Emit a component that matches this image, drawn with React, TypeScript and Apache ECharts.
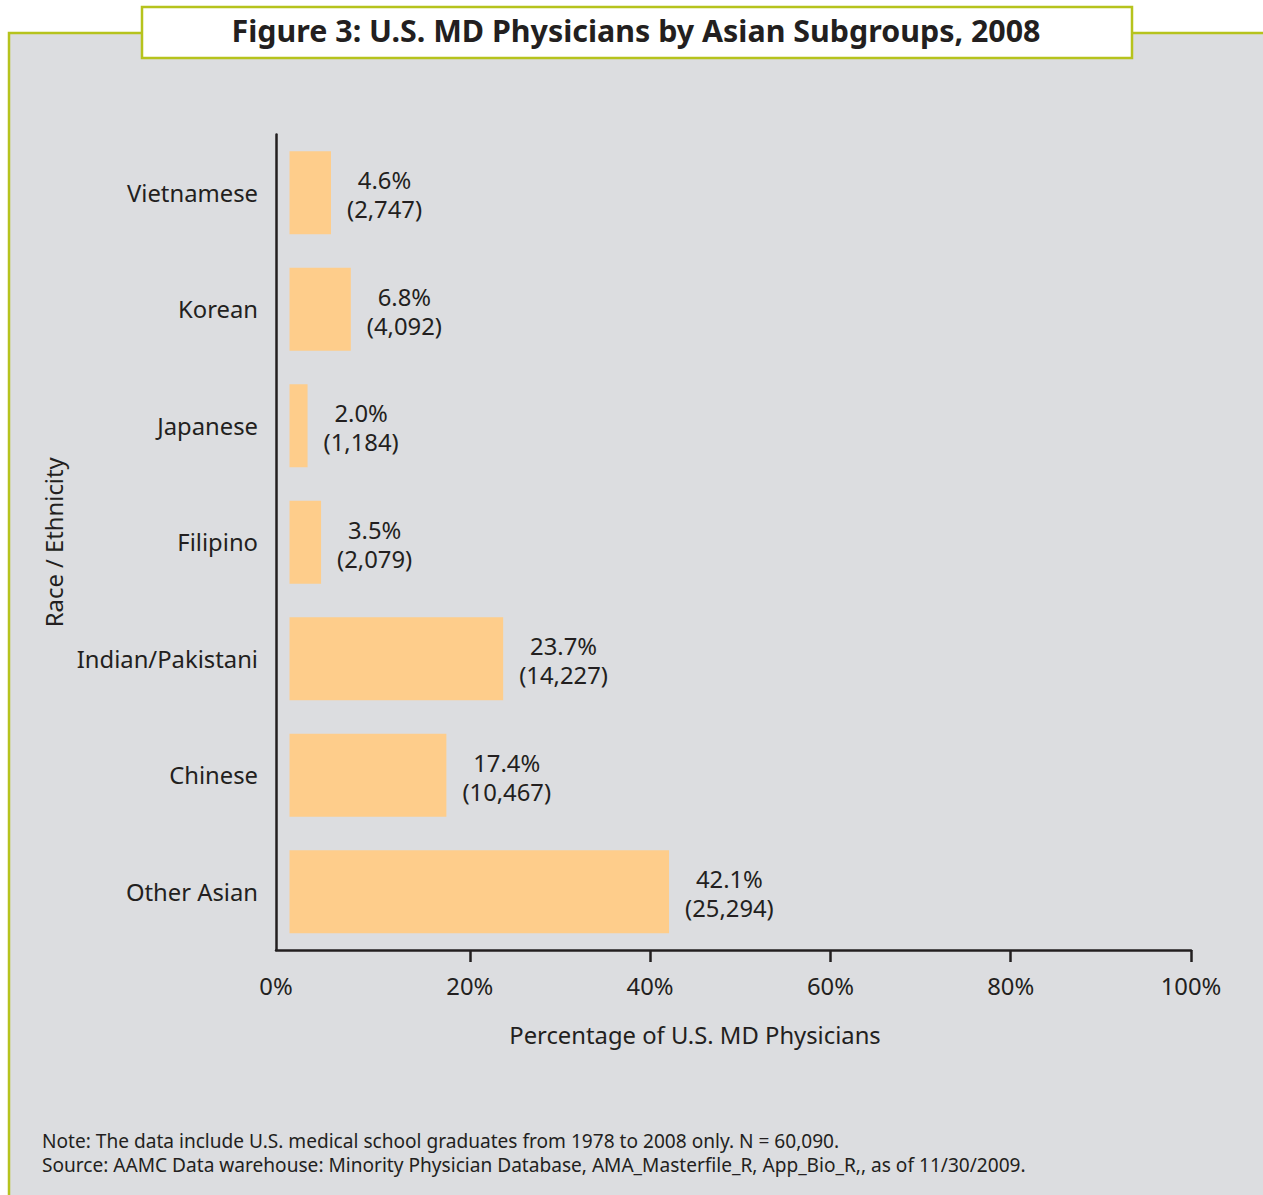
import React, { useEffect, useRef } from 'react';
import * as echarts from 'echarts';

const categories = ['Vietnamese', 'Korean', 'Japanese', 'Filipino', 'Indian/Pakistani', 'Chinese', 'Other Asian'];
const percentages = [4.6, 6.8, 2.0, 3.5, 23.7, 17.4, 42.1];
const counts = [2747, 4092, 1184, 2079, 14227, 10467, 25294];
const xTickValues = [20, 40, 60, 80, 100];
const xLabelValues = [0, 20, 40, 60, 80, 100];
const titleText = 'Figure 3: U.S. MD Physicians by Asian Subgroups, 2008';
const xAxisName = 'Percentage of U.S. MD Physicians';
const yAxisName = 'Race / Ethnicity';
const noteLines = [
  'Note: The data include U.S. medical school graduates from 1978 to 2008 only. N = 60,090.',
  'Source: AAMC Data warehouse: Minority Physician Database, AMA_Masterfile_R, App_Bio_R,, as of 11/30/2009.',
];

const FONT = "'Noto Sans', 'Open Sans', sans-serif";
const TEXT = '#231f20';
const GREEN = '#b6c31d';
const PANEL = '#dcdde0';
const BAR = '#fecd8b';
const X_MIN = -1.5;
const FS = 23.8;

function measure(text: string, size: number): number {
  const c = document.createElement('canvas');
  const ctx = c.getContext('2d');
  if (!ctx) return text.length * size * 0.55;
  ctx.font = `${size}px ${FONT}`;
  return ctx.measureText(text).width;
}

export default function App() {
  const ref = useRef<HTMLDivElement>(null);
  useEffect(() => {
    if (!ref.current) return;
    const chart = echarts.init(ref.current, undefined, { renderer: 'svg' });
    const pctText = (i: number) => `${percentages[i].toFixed(1)}%`;
    const cntText = (i: number) => `(${counts[i].toLocaleString('en-US')})`;
    const seriesData = percentages.map((v, i) => {
      const w = Math.max(measure(pctText(i), FS), measure(cntText(i), FS));
      return { value: v, label: { offset: [w / 2, 2] } };
    });
    chart.setOption({
      animation: false,
      backgroundColor: '#ffffff',
      textStyle: { fontFamily: FONT },
      title: {
        text: titleText,
        left: 631,
        textAlign: 'center',
        top: 10,
        z: 10,
        textStyle: { fontFamily: FONT, fontSize: 30.4, fontWeight: 'bold', color: TEXT },
      },
      graphic: [
        {
          type: 'rect',
          z: -10,
          silent: true,
          shape: { x: 9, y: 33, width: 1264, height: 1180 },
          style: { fill: PANEL, stroke: GREEN, lineWidth: 2.5 },
        },
        {
          type: 'rect',
          z: 5,
          silent: true,
          shape: { x: 142, y: 7, width: 990, height: 51 },
          style: { fill: '#ffffff', stroke: GREEN, lineWidth: 2.5 },
        },
        ...noteLines.map((t, i) => ({
          type: 'text',
          z: 5,
          x: 42,
          y: 1141 + i * 24,
          style: {
            text: t,
            fill: TEXT,
            fontSize: 19.1,
            fontFamily: FONT,
            verticalAlign: 'middle',
            align: 'left',
          },
        })),
      ],
      grid: {
        left: 276,
        right: 72,
        top: 134.5,
        bottom: 245,
        containLabel: false,
        outerBoundsMode: 'none',
      },
      xAxis: {
        type: 'value',
        min: X_MIN,
        max: 100,
        splitLine: { show: false },
        axisLine: { show: true, onZero: false, lineStyle: { color: TEXT, width: 2.5 } },
        axisTick: {
          show: true,
          length: 12,
          inside: false,
          customValues: xTickValues,
          lineStyle: { color: TEXT, width: 2.5 },
        },
        axisLabel: {
          customValues: xLabelValues.map((v) => (v === 0 ? X_MIN : v)),
          showMinLabel: true,
          showMaxLabel: true,
          formatter: (v: number) => `${v <= 0 ? 0 : v}%`,
          margin: 24,
          fontSize: FS,
          color: TEXT,
          fontFamily: FONT,
        },
        name: xAxisName,
        nameLocation: 'middle',
        nameGap: 73,
        nameTextStyle: { fontSize: FS, color: TEXT, fontFamily: FONT, padding: [0, 77, 0, 0] },
      },
      yAxis: {
        type: 'category',
        data: categories,
        inverse: true,
        axisLine: { show: true, onZero: false, lineStyle: { color: TEXT, width: 2.5 } },
        axisTick: { show: false },
        axisLabel: { fontSize: FS, color: TEXT, margin: 18, fontFamily: FONT },
        splitLine: { show: false },
        name: yAxisName,
        nameLocation: 'middle',
        nameGap: 204,
        nameTextStyle: { fontSize: FS, color: TEXT, fontFamily: FONT },
      },
      series: [
        {
          type: 'bar',
          data: seriesData,
          barWidth: 83,
          itemStyle: { color: BAR },
          label: {
            show: true,
            position: 'right',
            distance: 16,
            align: 'center',
            verticalAlign: 'middle',
            fontSize: FS,
            lineHeight: 29,
            color: TEXT,
            fontFamily: FONT,
            formatter: (p: any) => `${pctText(p.dataIndex)}\n${cntText(p.dataIndex)}`,
          },
        },
      ],
    });
    return () => chart.dispose();
  }, []);
  return (
    <div
      ref={ref}
      style={{ position: 'absolute', left: 0, top: 0, width: 1263, height: 1195 }}
    />
  );
}
